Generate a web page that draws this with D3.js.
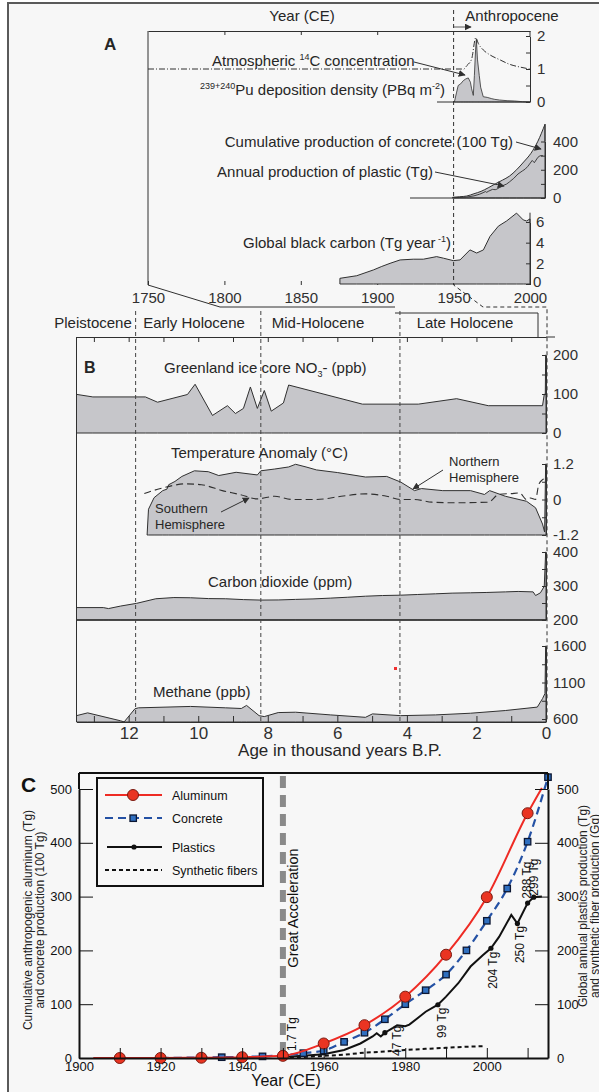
<!DOCTYPE html>
<html>
<head>
<meta charset="utf-8">
<script src="https://cdn.jsdelivr.net/npm/d3@7"></script>
<style>
  body { margin: 0; background: #fff; }
  svg text { font-family: "Liberation Sans", Arial, sans-serif; fill: #262626; }
</style>
</head>
<body>
<svg id="fig" width="599" height="1092"></svg>
<script>
// ---------- panel A : year CE ----------
const c14 = [[1750, 1.0], [1955, 1.0], [1956.4, 0.99], [1958.6, 1.1], [1961.8, 1.3], [1964.5, 1.95], [1966.2, 1.77], [1969.4, 1.58], [1973.7, 1.43], [1980.2, 1.28], [1986.8, 1.14], [1993.3, 1.06], [2000, 1.0]];
const pu = [[1950.5, 0], [1952, 0.3], [1953, 0.5], [1954.6, 0.55], [1956.4, 0.65], [1958, 0.7], [1959.6, 0.73], [1961, 0.6], [1961.8, 0.4], [1962.9, 0.2], [1963.6, 0.8], [1964.4, 1.6], [1964.9, 1.9], [1965.6, 1.3], [1966.8, 0.8], [1967.7, 0.45], [1969.4, 0.16], [1972, 0.14], [1975, 0.1], [1977, 0.08], [1980, 0.06], [1985, 0.04], [1990, 0.03], [1995, 0.01], [2000, 0]];
const blackCarbon = [[1875.6, 0.55], [1886.6, 0.8], [1897.5, 1.36], [1903, 1.7], [1908.4, 2.0], [1915, 2.33], [1923.6, 2.4], [1930.2, 2.4], [1938.9, 2.65], [1943.3, 2.5], [1949.8, 2.26], [1954.2, 2.33], [1960.7, 3.3], [1965.1, 3.0], [1969.5, 3.3], [1973.8, 4.6], [1979.3, 5.6], [1984.7, 6.1], [1991.2, 6.86], [1995.6, 6.2], [1997.8, 6.1], [2000, 6.3]];

// ---------- panel B : thousand years B.P. ----------
const nitrate = [[13.5, 99], [13.03, 92.5], [11.52, 92.5], [11.17, 79], [10.31, 98.7], [10.09, 125], [9.59, 45], [9.16, 70], [8.93, 50], [8.7, 63], [8.5, 118], [8.3, 63], [8.1, 109], [7.9, 56], [7.55, 77], [7.4, 123], [5.28, 74], [3.67, 74], [2.57, 88], [1.66, 70], [0.1, 70], [0.05, 99], [0.02, 100], [0.01, 200], [0, 200]];
const tempNorth = [[11.47, -1.2], [11.43, -0.33], [11.27, 0.06], [11.02, 0.3], [10.9, 0.35], [10.85, 0.5], [10.67, 0.61], [10.47, 0.78], [10.11, 0.97], [9.71, 0.94], [9.41, 0.81], [8.91, 0.92], [8.3, 0.83], [8.2, 0.97], [7.8, 1.03], [7.4, 1.1], [7.2, 1.19], [6.9, 1.1], [6.6, 1.0], [5.99, 0.91], [5.19, 0.76], [4.58, 0.78], [4.18, 0.59], [3.78, 0.3], [3.58, 0.37], [2.97, 0.3], [2.17, 0.3], [1.77, 0.17], [1.62, 0.3], [1.17, 0.11], [0.56, -0.06], [0.3, -0.28], [0.1, -0.83], [0.04, -1.1], [0.01, 1.2], [0, 1.2]];
const tempSouth = [[11.55, 0.2], [11.3, 0.3], [11.02, 0.39], [10.7, 0.48], [10.37, 0.53], [9.91, 0.5], [9.31, 0.3], [8.81, 0.17], [8.3, 0.02], [7.8, 0.11], [7.29, 0.0], [6.6, 0.0], [5.89, 0.11], [5.19, 0.19], [4.58, 0.11], [4.18, 0.0], [3.78, 0.0], [3.28, -0.09], [2.67, -0.11], [1.66, -0.09], [1.36, 0.17], [1.0, 0.2], [0.76, 0.22], [0.56, 0.0], [0.45, 0.05], [0.3, 0.0], [0.21, 0.5], [0.1, 0.67], [0.05, 0.7]];
const co2 = [[13.5, 236.5], [12.73, 236.5], [12.58, 233.6], [12.23, 241], [11.77, 249], [11.22, 262.5], [10.7, 266], [10.22, 265.4], [9.7, 263], [9.21, 262.5], [8.7, 260], [8.2, 258.6], [7.7, 259], [7.2, 260.6], [6.7, 262], [6.19, 264.4], [5.7, 267], [5.19, 270], [4.7, 272], [4.18, 273], [3.7, 275], [3.18, 277], [2.7, 279], [2.17, 280], [1.7, 281], [1.17, 282.7], [0.8, 284], [0.37, 282.7], [0.3, 272], [0.16, 280], [0.05, 299], [0.01, 400], [0, 400]];
const methane = [[13.5, 646], [13.18, 684], [12.23, 575], [12.13, 560], [11.82, 740], [11.72, 753], [10.22, 772], [9.21, 753], [8.76, 744], [8.61, 786], [8.25, 646], [8.1, 633], [7.7, 688], [7.2, 693], [6.19, 656], [5.19, 623], [4.99, 670], [4.18, 646], [3.18, 656], [2.17, 679], [1.17, 716], [0.25, 763], [0.1, 879], [0.03, 949], [0.01, 1600], [0, 1600]];
const epochBounds = [11.8, 8.2, 4.2];
const epochNames = ['Pleistocene', 'Early Holocene', 'Mid-Holocene', 'Late Holocene'];

// ---------- panel C : year CE ----------
const aluminum = [[1903.5, 0], [1910, 0], [1920, 0], [1930, 0.5], [1940, 1.5], [1950, 4], [1960, 27], [1970, 61], [1980, 114], [1990, 192], [2000, 299], [2010, 455], [2013.5, 502]];
const concrete = [[1920, 0], [1925, 0.5], [1930, 1], [1935, 1.5], [1940, 2], [1945, 3], [1950, 5], [1955, 9], [1960, 14], [1965, 30], [1970, 47], [1975, 72], [1980, 100], [1985, 126], [1990, 155], [1995, 200], [2000, 255], [2005, 315], [2010, 402], [2015, 522]];
const plastics = [[1950, 1.7], [1955, 4], [1960, 7], [1965, 15], [1969, 27], [1972, 40], [1973, 46], [1974, 40], [1975, 47], [1977, 56], [1978, 61], [1979, 60], [1980, 59], [1981, 62], [1983, 74], [1985, 86], [1988, 99], [1990, 114], [1993, 139], [1996, 170], [1999, 191], [2001, 204], [2003, 225], [2006, 266], [2007.5, 250], [2010, 288], [2011.5, 299], [2013.5, 300]];
const plasticLabels = [[1950, 1.7, '1.7 Tg'], [1975, 47, '47 Tg'], [1988, 99, '99 Tg'], [2001, 204, '204 Tg'], [2007.5, 250, '250 Tg'], [2010, 288, '288 Tg'], [2011.5, 299, '299 Tg']];
const fibers = [[1950, 1], [1955, 2], [1960, 4], [1965, 6], [1970, 10], [1975, 12], [1980, 15], [1985, 17], [1990, 19], [1995, 21], [1999, 22]];

const gray = '#c6c6ca';
const ink = '#303030';

const svg = d3.select('#fig');

// page frame
svg.append('rect').attr('x', 8).attr('y', 3).attr('width', 700).attr('height', 1200)
   .attr('fill', '#f7f7f7').attr('stroke', '#5a5a5a').attr('stroke-width', 2);

const defs = svg.append('defs');
defs.append('marker').attr('id', 'arrow').attr('viewBox', '0 0 10 10')
    .attr('refX', 9).attr('refY', 5).attr('markerWidth', 7).attr('markerHeight', 7)
    .attr('markerUnits', 'userSpaceOnUse').attr('orient', 'auto')
  .append('path').attr('d', 'M0,0L10,5L0,10z').attr('fill', ink);

// little helper for text with super/subscripts
function rich(g, x, y, parts, size, anchor) {
  const t = g.append('text').attr('x', x).attr('y', y).attr('font-size', size)
             .attr('text-anchor', anchor || 'start');
  let shift = 0;
  parts.forEach(([s, kind]) => {
    const target = kind === 'sup' ? -0.4 * size : kind === 'sub' ? 0.25 * size : 0;
    t.append('tspan').attr('dy', target - shift).attr('font-size', kind ? size * 0.6 : size).text(s);
    shift = target;
  });
  return t;
}

function line(g, pts, opts) {
  const p = g.append('path').attr('d', d3.line()(pts)).attr('fill', 'none')
             .attr('stroke', (opts && opts.color) || ink).attr('stroke-width', (opts && opts.w) || 1);
  if (opts && opts.dash) p.attr('stroke-dasharray', opts.dash);
  if (opts && opts.arrow) p.attr('marker-end', 'url(#arrow)');
  return p;
}

function styleAxis(g, size, color) {
  g.selectAll('text').attr('font-size', size).attr('font-family', '"Liberation Sans", Arial, sans-serif')
   .style('fill', color || ink);
  g.selectAll('line,path').attr('stroke', color || ink);
  g.attr('font-family', null).attr('font-size', null);
}

// ================= PANEL A =================
const A = svg.append('g');
const xA = d3.scaleLinear().domain([1750, 2000]).range([148, 530]);
const yIso = d3.scaleLinear().domain([0, 2]).range([102, 36]);
const xCum = d3.scaleLinear().domain([1920, 2015]).range([410, 545]);
const yCum = d3.scaleLinear().domain([0, 400]).range([198, 141.5]);
const yBC = d3.scaleLinear().domain([0, 6]).range([284, 222]);

A.append('text').attr('x', 104).attr('y', 50).attr('font-size', 17).attr('font-weight', 'bold').text('A');
A.append('text').attr('x', 302).attr('y', 21).attr('font-size', 15).attr('text-anchor', 'middle').text('Year (CE)');
A.append('text').attr('x', 512).attr('y', 21).attr('font-size', 15).attr('text-anchor', 'middle').text('Anthropocene');

// frame: left edge and top axis
line(A, [[xA(1750), 31], [xA(1750), 285]]);
const topA = A.append('g').attr('transform', 'translate(0,31)')
  .call(d3.axisBottom(xA).tickValues([1800, 1850, 1900]).tickSize(4).tickSizeOuter(0).tickFormat(''));
styleAxis(topA, 15);

// bottom year axis (no domain line)
const botA = A.append('g').attr('transform', 'translate(0,285)')
  .call(d3.axisBottom(xA).tickValues(d3.range(1750, 2001, 50)).tickSize(-4).tickPadding(7).tickFormat(d3.format('d')));
botA.select('.domain').remove();
styleAxis(botA, 15);

// Pu deposition + 14C
A.append('path').datum(pu)
  .attr('d', d3.area().x(d => xA(d[0])).y0(yIso(0)).y1(d => yIso(d[1])))
  .attr('fill', gray).attr('stroke', ink).attr('stroke-width', 0.8);
line(A, [[437, yIso(0)], [xA(2000), yIso(0)]]);
A.append('path').datum(c14)
  .attr('d', d3.line().x(d => xA(d[0])).y(d => yIso(d[1])).curve(d3.curveMonotoneX))
  .attr('fill', 'none').attr('stroke', ink).attr('stroke-width', 1).attr('stroke-dasharray', '6,2,1,2');
const isoAx = A.append('g').attr('transform', `translate(${xA(2000)},0)`)
  .call(d3.axisRight(yIso).tickValues([0, 0.5, 1, 1.5, 2]).tickSize(-4).tickSizeOuter(0).tickPadding(7)
        .tickFormat(d => Number.isInteger(d) ? d : ''));
styleAxis(isoAx, 15);
line(A, [[xA(2000), 31], [xA(2000), yIso(2)]]);

rich(A, 212, 66, [['Atmospheric '], ['14', 'sup'], ['C concentration']], 15);
line(A, [[414, 62], [465, 75]], { arrow: true });
rich(A, 200, 95, [['239+240', 'sup'], ['Pu deposition density (PBq m'], ['-2', 'sup'], [')']], 15);

// concrete + plastic
A.append('path').datum(concrete.filter(d => d[0] >= 1950))
  .attr('d', d3.area().x(d => xCum(d[0])).y0(yCum(0)).y1(d => yCum(d[1])).curve(d3.curveMonotoneX))
  .attr('fill', gray).attr('stroke', ink).attr('stroke-width', 1);
A.append('path').datum(plastics)
  .attr('d', d3.line().x(d => xCum(d[0])).y(d => yCum(d[1])))
  .attr('fill', 'none').attr('stroke', ink).attr('stroke-width', 0.9);
line(A, [[xCum(1920), yCum(0)], [xCum(2015), yCum(0)]], { w: 1.2 });
const cumAx = A.append('g').attr('transform', `translate(${xCum(2015)},0)`)
  .call(d3.axisRight(yCum).tickValues([0, 100, 200, 300, 400]).tickSize(-4).tickSizeOuter(0).tickPadding(8)
        .tickFormat(d => d % 200 === 0 ? d : ''));
styleAxis(cumAx, 15);
line(A, [[xCum(2015), yCum(400)], [xCum(2015), yCum(522)]]);
A.append('text').attr('x', 513).attr('y', 147).attr('font-size', 15).attr('text-anchor', 'end')
  .text('Cumulative production of concrete (100 Tg)');
line(A, [[516, 142], [541, 149]], { arrow: true });
A.append('text').attr('x', 433).attr('y', 177).attr('font-size', 15).attr('text-anchor', 'end')
  .text('Annual production of plastic (Tg)');
line(A, [[435, 172], [504, 186]], { arrow: true });

// black carbon
A.append('path').datum(blackCarbon)
  .attr('d', d3.area().x(d => xA(d[0])).y0(yBC(0)).y1(d => yBC(d[1])))
  .attr('fill', gray).attr('stroke', ink).attr('stroke-width', 1);
const bcAx = A.append('g').attr('transform', `translate(${xA(2000)},0)`)
  .call(d3.axisRight(yBC).tickValues([0, 2, 4, 6]).tickSize(-4).tickSizeOuter(0).tickPadding(6)
        .tickFormat(d3.format('d')));
styleAxis(bcAx, 15);
bcAx.selectAll('.tick').filter(d => d === 0).select('text').attr('x', 3).attr('dy', '0.15em');
line(A, [[xA(2000), yBC(6)], [xA(2000), yBC(6.9)]]);
rich(A, 243, 248, [['Global black carbon (Tg year'], [' -1', 'sup'], [')']], 15);

// 1950 marker and zoom connectors
line(A, [[xA(1950), 10], [xA(1950), 285], [483, 307], [547, 307], [547, 722]], { dash: '4,3' });
line(A, [[xA(1950), 27], [471, 27]], { arrow: true, w: 0.8 });
line(A, [[xA(1750), 285], [220, 307], [395, 307]]);
line(A, [[395, 313], [538, 313], [538, 337]]);

// ================= PANEL B =================
const B = svg.append('g');
const xB = d3.scaleLinear().domain([13.5, 0]).range([76.5, 546]);
const yNO3 = d3.scaleLinear().domain([0, 200]).range([433, 355]);
const yT = d3.scaleLinear().domain([-1.2, 1.2]).range([535, 464]);
const yCO2 = d3.scaleLinear().domain([200, 400]).range([620, 552]);
const yCH4 = d3.scaleLinear().domain([600, 1600]).range([719, 646]);

// epoch labels
const epochCenters = [93, 194, 318, 465];
epochNames.forEach((n, i) => {
  B.append('text').attr('x', epochCenters[i]).attr('y', 328).attr('font-size', 15)
   .attr('text-anchor', 'middle').text(n);
});

// areas
const area = (ys, base) => d3.area().x(d => xB(d[0])).y0(base).y1(d => ys(d[1]));
B.append('path').datum(nitrate).attr('d', area(yNO3, yNO3(0)))
  .attr('fill', gray).attr('stroke', ink).attr('stroke-width', 1);
B.append('path').datum(tempNorth).attr('d', area(yT, yT(-1.2)))
  .attr('fill', gray).attr('stroke', ink).attr('stroke-width', 1);
B.append('path').datum(tempSouth)
  .attr('d', d3.line().x(d => xB(d[0])).y(d => yT(d[1])).curve(d3.curveMonotoneX))
  .attr('fill', 'none').attr('stroke', ink).attr('stroke-width', 1.1).attr('stroke-dasharray', '7,4');
B.append('path').datum(co2).attr('d', area(yCO2, yCO2(200)))
  .attr('fill', gray).attr('stroke', ink).attr('stroke-width', 1);
B.append('path').datum(methane).attr('d', area(yCH4, 722))
  .attr('fill', gray).attr('stroke', ink).attr('stroke-width', 1);
line(B, [[xB(13.5), yCO2(200)], [xB(0), yCO2(200)]], { w: 1.6 });

// frame
line(B, [[xB(13.5), 337], [xB(13.5), 722]]);
const topB = B.append('g').attr('transform', 'translate(0,337)')
  .call(d3.axisBottom(xB).tickValues(d3.range(1, 14)).tickSize(5).tickSizeOuter(0).tickFormat(''));
styleAxis(topB, 15);
line(B, [[xB(0), 337], [555, 337]]);
const botB = B.append('g').attr('transform', 'translate(0,722)')
  .call(d3.axisBottom(xB).tickValues(d3.range(0, 14)).tickSize(-6).tickSizeOuter(0).tickPadding(5)
        .tickFormat(d => d % 2 === 0 ? d : ''));
styleAxis(botB, 17);
B.append('text').attr('x', 340).attr('y', 756).attr('font-size', 17).attr('text-anchor', 'middle')
  .text('Age in thousand years B.P.');

// epoch boundaries
epochBounds.forEach(a => line(B, [[xB(a), 311], [xB(a), 722]], { dash: '4,3', color: '#444' }));

// right hand axes
function rightAxis(scale, ticks, fmt) {
  const g = B.append('g').attr('transform', `translate(${xB(0)},0)`)
    .call(d3.axisRight(scale).tickValues(ticks).tickSize(-4).tickSizeOuter(0).tickPadding(7).tickFormat(fmt));
  styleAxis(g, 15);
}
rightAxis(yNO3, [0, 50, 100, 150, 200], d => d % 100 === 0 ? d : '');
rightAxis(yT, [-1.2, -0.6, 0, 0.6, 1.2], d => d === 0 ? '0' : (Math.abs(d) === 1.2 ? (d < 0 ? '-1.2' : '1.2') : ''));
rightAxis(yCO2, [200, 250, 300, 350, 400], d => d % 100 === 0 ? d : '');
rightAxis(yCH4, [600, 850, 1100, 1350, 1600], d => (d - 600) % 500 === 0 ? d : '');

// labels
B.append('text').attr('x', 84).attr('y', 373).attr('font-size', 16).attr('font-weight', 'bold').text('B');
rich(B, 164, 373, [['Greenland ice core NO'], ['3', 'sub'], ['- (ppb)']], 15);
B.append('text').attr('x', 171).attr('y', 458).attr('font-size', 15).text('Temperature Anomaly (\u00B0C)');
B.append('text').attr('x', 449).attr('y', 466).attr('font-size', 13).text('Northern');
B.append('text').attr('x', 449).attr('y', 482).attr('font-size', 13).text('Hemisphere');
line(B, [[443, 470], [413, 489]], { arrow: true });
B.append('text').attr('x', 155).attr('y', 513).attr('font-size', 13).text('Southern');
B.append('text').attr('x', 155).attr('y', 529).attr('font-size', 13).text('Hemisphere');
line(B, [[221, 512], [249, 498]], { arrow: true });
B.append('text').attr('x', 208).attr('y', 587).attr('font-size', 15).text('Carbon dioxide (ppm)');
B.append('text').attr('x', 153).attr('y', 697).attr('font-size', 15).text('Methane (ppb)');
B.append('rect').attr('x', 394).attr('y', 667).attr('width', 3).attr('height', 3).attr('fill', '#f03030');

// ================= PANEL C =================
const C = svg.append('g');
const xC = d3.scaleLinear().domain([1900, 2015]).range([79, 548]);
const yC = d3.scaleLinear().domain([0, 500]).range([1058, 789]);
const black = '#111';

C.append('text').attr('x', 21).attr('y', 792).attr('font-size', 21).attr('font-weight', 'bold').style('fill', black).text('C');

// great acceleration
line(C, [[xC(1950), 776], [xC(1950), 1058]], { color: '#8a8a8a', w: 6, dash: '12,7' });
C.append('text').attr('transform', `translate(${xC(1950) + 10},908) rotate(-90)`)
  .attr('font-size', 14.5).attr('text-anchor', 'middle').attr('dy', '0.35em').style('fill', black).text('Great Acceleration');

// series
C.append('path').datum(fibers)
  .attr('d', d3.line().x(d => xC(d[0])).y(d => yC(d[1])))
  .attr('fill', 'none').attr('stroke', black).attr('stroke-width', 2).attr('stroke-dasharray', '4,3');
C.append('path').datum(plastics)
  .attr('d', d3.line().x(d => xC(d[0])).y(d => yC(d[1])))
  .attr('fill', 'none').attr('stroke', black).attr('stroke-width', 2);
C.selectAll('.pdot').data(plasticLabels).enter().append('circle')
  .attr('cx', d => xC(d[0])).attr('cy', d => yC(d[1])).attr('r', 2.6).attr('fill', black);
C.append('path').datum(concrete)
  .attr('d', d3.line().x(d => xC(d[0])).y(d => yC(d[1])).curve(d3.curveMonotoneX))
  .attr('fill', 'none').attr('stroke', '#2451a4').attr('stroke-width', 2.2).attr('stroke-dasharray', '8,5');
C.selectAll('.csq').data(concrete.filter(d => d[0] >= 1930)).enter().append('rect')
  .attr('x', d => xC(d[0]) - 3.2).attr('y', d => yC(d[1]) - 3.2).attr('width', 6.4).attr('height', 6.4)
  .attr('fill', '#2f6fc0').attr('stroke', '#0c1733').attr('stroke-width', 1.3);
C.append('path').datum(aluminum)
  .attr('d', d3.line().x(d => xC(d[0])).y(d => yC(d[1])).curve(d3.curveMonotoneX))
  .attr('fill', 'none').attr('stroke', '#ee2b24').attr('stroke-width', 2);
C.selectAll('.adot').data(aluminum.filter(d => d[0] % 10 === 0)).enter().append('circle')
  .attr('cx', d => xC(d[0])).attr('cy', d => yC(d[1])).attr('r', 5.5)
  .attr('fill', '#ea3422').attr('stroke', '#7a1a10').attr('stroke-width', 1);

// plastic value labels (rotated), offsets from their dots
const labelOffsets = [[9, -23], [12, 8], [4, 18], [2, 22], [2, 21], [-1, -23], [0, -20]];
plasticLabels.forEach((d, i) => {
  C.append('text')
   .attr('transform', `translate(${xC(d[0]) + labelOffsets[i][0]},${yC(d[1]) + labelOffsets[i][1]}) rotate(-90)`)
   .attr('font-size', 12).attr('text-anchor', 'middle').attr('dy', '0.35em').style('fill', black).text(d[2]);
});

// axes
const leftC = C.append('g').attr('transform', `translate(${xC(1900)},0)`)
  .call(d3.axisLeft(yC).tickValues(d3.range(0, 501, 100)).tickSize(-14).tickSizeOuter(0).tickPadding(7));
styleAxis(leftC, 13, black);
const rightC = C.append('g').attr('transform', `translate(${xC(2015)},0)`)
  .call(d3.axisRight(yC).tickValues(d3.range(0, 501, 100)).tickSize(-13).tickSizeOuter(0).tickPadding(9));
styleAxis(rightC, 13, black);
const botC = C.append('g').attr('transform', `translate(0,${yC(0)})`)
  .call(d3.axisBottom(xC).tickValues(d3.range(1900, 2011, 10)).tickSize(-10).tickSizeOuter(0).tickPadding(4)
        .tickFormat(d => d % 20 === 0 ? d : ''));
styleAxis(botC, 13, black);
C.selectAll('.domain').attr('stroke-width', 2);
line(C, [[xC(1900), 773], [xC(2015), 773]], { color: black, w: 2 });
line(C, [[xC(1900), 773], [xC(1900), 789]], { color: black, w: 2 });
line(C, [[xC(2015), 773], [xC(2015), 789]], { color: black, w: 2 });

C.append('text').attr('x', 286).attr('y', 1086).attr('font-size', 16).attr('text-anchor', 'middle')
  .style('fill', black).text('Year (CE)');
C.append('text').attr('transform', 'translate(28,920) rotate(-90)').attr('font-size', 12)
  .attr('text-anchor', 'middle').attr('dy', '0.35em').style('fill', '#222').text('Cumulative anthropogenic aluminum (Tg)');
C.append('text').attr('transform', 'translate(40,920) rotate(-90)').attr('font-size', 12)
  .attr('text-anchor', 'middle').attr('dy', '0.35em').style('fill', '#222').text('and concrete production (100 Tg)');
C.append('text').attr('transform', 'translate(583,906) rotate(-90)').attr('font-size', 12)
  .attr('text-anchor', 'middle').attr('dy', '0.35em').style('fill', '#222').text('Global annual plastics production (Tg)');
C.append('text').attr('transform', 'translate(595,906) rotate(-90)').attr('font-size', 12)
  .attr('text-anchor', 'middle').attr('dy', '0.35em').style('fill', '#222').text('and synthetic fiber production (Gg)');

// legend
const L = C.append('g');
L.append('rect').attr('x', 97).attr('y', 778).attr('width', 166).attr('height', 108)
  .attr('fill', 'none').attr('stroke', black).attr('stroke-width', 2);
const legendItems = ['Aluminum', 'Concrete', 'Plastics', 'Synthetic fibers'];
const legendY = [795, 818, 847, 870];
legendItems.forEach((name, i) => {
  const y = legendY[i];
  if (i === 0) {
    line(L, [[105, y], [162, y]], { color: '#ee2b24', w: 2 });
    L.append('circle').attr('cx', 133).attr('cy', y).attr('r', 5.5).attr('fill', '#ea3422').attr('stroke', '#7a1a10');
  } else if (i === 1) {
    line(L, [[105, y], [162, y]], { color: '#2451a4', w: 2.2, dash: '8,5' });
    L.append('rect').attr('x', 130).attr('y', y - 3).attr('width', 6.4).attr('height', 6.4)
     .attr('fill', '#2f6fc0').attr('stroke', '#0c1733').attr('stroke-width', 1.3);
  } else if (i === 2) {
    line(L, [[107, y], [162, y]], { color: black, w: 2 });
    L.append('circle').attr('cx', 134).attr('cy', y).attr('r', 2.6).attr('fill', black);
  } else {
    line(L, [[105, y], [162, y]], { color: black, w: 2, dash: '4,3' });
  }
  L.append('text').attr('x', 172).attr('y', y + 4.5).attr('font-size', 12.5).style('fill', black).text(name);
});
</script>
</body>
</html>
